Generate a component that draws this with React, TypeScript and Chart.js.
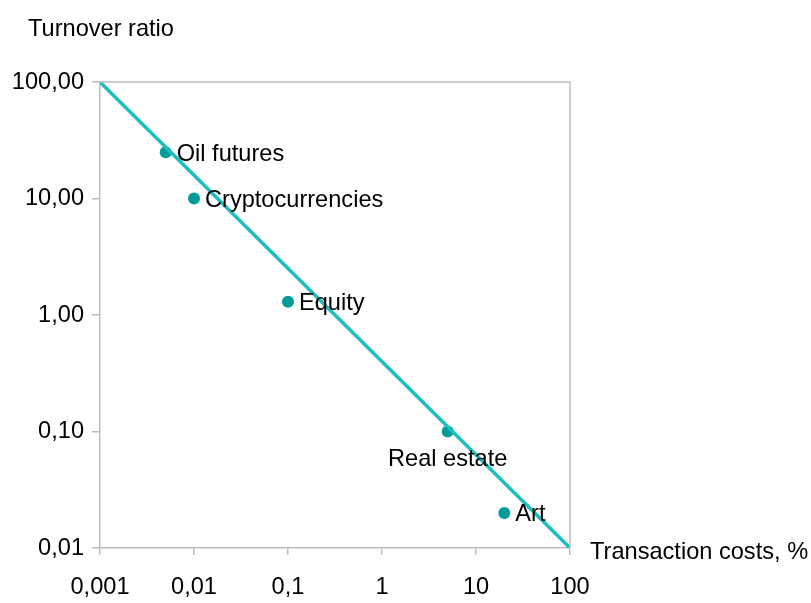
import React, { useEffect, useRef } from "react";
import { Chart, registerables } from "chart.js";

Chart.register(...registerables);

const assets = ["Oil futures", "Cryptocurrencies", "Equity", "Real estate", "Art"];
const transactionCosts = [0.005, 0.01, 0.1, 5, 20];
const turnoverRatios = [25, 10, 1.3, 0.1, 0.02];
const fitLineX = [0.001, 100];
const fitLineY = [100, 0.01];
const xTickValues = [0.001, 0.01, 0.1, 1, 10, 100];
const xTickLabels = ["0,001", "0,01", "0,1", "1", "10", "100"];
const yTickValues = [0.01, 0.1, 1, 10, 100];
const yTickLabels = ["0,01", "0,10", "1,00", "10,00", "100,00"];
const yAxisTitle = "Turnover ratio";
const xAxisTitle = "Transaction costs, %";

const FONT = "'Liberation Sans', Arial, sans-serif";
const FONT_SIZE = 23.6;
const POINT_COLOR = "#009C98";
const LINE_COLOR = "#1CBFBF";
const AXIS_COLOR = "#BDBDBD";

export default function App() {
  const ref = useRef<HTMLCanvasElement | null>(null);

  useEffect(() => {
    document.body.style.margin = "0";
    const canvas = ref.current;
    if (!canvas) return;

    const overlay = {
      id: "overlay",
      afterDatasetsDraw(chart: any) {
        const { ctx, chartArea } = chart;
        ctx.save();
        ctx.strokeStyle = AXIS_COLOR;
        ctx.lineWidth = 1.5;
        ctx.beginPath();
        ctx.moveTo(chartArea.left, chartArea.top);
        ctx.lineTo(chartArea.right, chartArea.top);
        ctx.lineTo(chartArea.right, chartArea.bottom);
        ctx.stroke();
        ctx.fillStyle = "#000";
        ctx.font = `${FONT_SIZE}px ${FONT}`;
        const meta = chart.getDatasetMeta(1);
        meta.data.forEach((pt: any, i: number) => {
          const name = assets[i];
          if (name === "Real estate") {
            ctx.textAlign = "center";
            ctx.textBaseline = "middle";
            ctx.fillText(name, pt.x, pt.y + 28);
          } else {
            ctx.textAlign = "left";
            ctx.textBaseline = "middle";
            ctx.fillText(name, pt.x + 11, pt.y + 2);
          }
        });
        ctx.textAlign = "left";
        ctx.textBaseline = "middle";
        ctx.fillText(yAxisTitle, 28, 29);
        ctx.fillText(xAxisTitle, chartArea.right + 20, chartArea.bottom + 4);
        ctx.restore();
      },
    };

    const chart = new Chart(canvas, {
      type: "scatter",
      data: {
        datasets: [
          {
            type: "line",
            data: fitLineX.map((x, i) => ({ x, y: fitLineY[i] })),
            borderColor: LINE_COLOR,
            borderWidth: 3.5,
            pointRadius: 0,
            fill: false,
          },
          {
            data: transactionCosts.map((x, i) => ({ x, y: turnoverRatios[i] })),
            backgroundColor: POINT_COLOR,
            borderColor: POINT_COLOR,
            pointRadius: 6,
            pointBorderWidth: 0,
          },
        ],
      },
      plugins: [overlay],
      options: {
        responsive: false,
        animation: false,
        devicePixelRatio: 1,
        layout: { padding: { top: 82, right: 241, left: 0, bottom: 0 } },
        plugins: { legend: { display: false }, tooltip: { enabled: false } },
        scales: {
          x: {
            type: "logarithmic",
            min: 0.001,
            max: 100,
            afterBuildTicks: (s: any) => {
              s.ticks = xTickValues.map((v) => ({ value: v }));
            },
            afterFit: (s: any) => {
              s.height = 55;
            },
            grid: {
              drawOnChartArea: false,
              drawTicks: true,
              tickLength: 7,
              color: AXIS_COLOR,
              lineWidth: 1.5,
            },
            border: { color: AXIS_COLOR, width: 1.5 },
            ticks: {
              autoSkip: false,
              maxRotation: 0,
              padding: 18,
              color: "#000",
              font: { family: FONT, size: FONT_SIZE },
              callback: (v: any) => {
                const idx = xTickValues.findIndex((t) => Math.abs(t - v) / t < 1e-6);
                return idx >= 0 ? xTickLabels[idx] : "";
              },
            },
          },
          y: {
            type: "logarithmic",
            min: 0.01,
            max: 100,
            afterBuildTicks: (s: any) => {
              s.ticks = yTickValues.map((v) => ({ value: v }));
            },
            afterFit: (s: any) => {
              s.width = 100;
            },
            grid: {
              drawOnChartArea: false,
              drawTicks: true,
              tickLength: 8,
              color: AXIS_COLOR,
              lineWidth: 1.5,
            },
            border: { color: AXIS_COLOR, width: 1.5 },
            ticks: {
              autoSkip: false,
              padding: 8,
              color: "#000",
              font: { family: FONT, size: FONT_SIZE },
              callback: (v: any) => {
                const idx = yTickValues.findIndex((t) => Math.abs(t - v) / t < 1e-6);
                return idx >= 0 ? yTickLabels[idx] : "";
              },
            },
          },
        },
      },
    } as any);

    return () => chart.destroy();
  }, []);

  return (
    <div style={{ width: 811, height: 603 }}>
      <canvas ref={ref} width={811} height={603} style={{ display: "block" }} />
    </div>
  );
}
